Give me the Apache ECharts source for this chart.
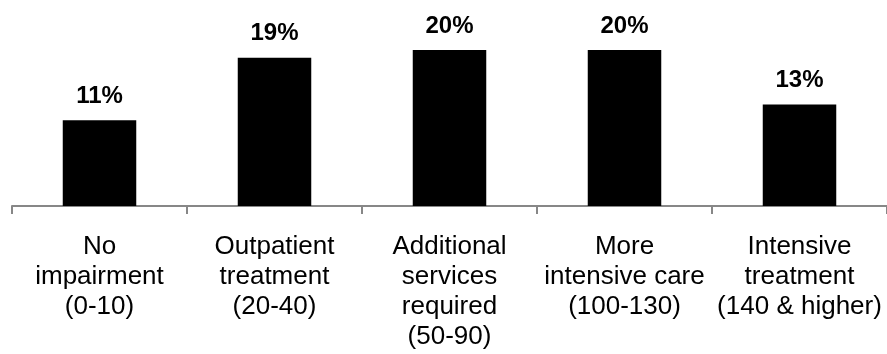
<!DOCTYPE html>
<html>
<head>
<meta charset="utf-8">
<script src="https://cdn.jsdelivr.net/npm/echarts@6/dist/echarts.min.js"></script>
<style>
  html, body { margin: 0; padding: 0; background: #ffffff; }
  #chart { width: 887px; height: 354px; }
</style>
</head>
<body>
<div id="chart"></div>
<script>
// Impairment score bands and the share of cases in each
const categories = [
  'No\nimpairment\n(0-10)',
  'Outpatient\ntreatment\n(20-40)',
  'Additional\nservices\nrequired\n(50-90)',
  'More\nintensive care\n(100-130)',
  'Intensive\ntreatment\n(140 & higher)'
];
const shares = [11, 19, 20, 20, 13];

const chart = echarts.init(document.getElementById('chart'), null, { renderer: 'canvas' });

chart.setOption({
  animation: false,
  backgroundColor: '#ffffff',
  grid: { left: 12, width: 877.5, top: 50, bottom: 148, containLabel: false },
  xAxis: {
    type: 'category',
    data: categories,
    boundaryGap: true,
    axisLine: { show: true, lineStyle: { color: '#878787', width: 2 } },
    axisTick: { show: true, alignWithLabel: false, length: 8, lineStyle: { color: '#878787', width: 2 } },
    axisLabel: {
      interval: 0,
      margin: 26,
      color: '#000000',
      fontFamily: 'Liberation Sans, Arial, sans-serif',
      fontSize: 26,
      lineHeight: 30,
      align: 'center'
    }
  },
  yAxis: {
    type: 'value',
    min: 0,
    max: 20,
    show: false,
    splitLine: { show: false }
  },
  series: [{
    type: 'bar',
    data: shares,
    barWidth: '42%',
    itemStyle: { color: '#000000' },
    label: {
      show: true,
      position: 'top',
      distance: 12,
      formatter: '{c}%',
      color: '#000000',
      fontFamily: 'Liberation Sans, Arial, sans-serif',
      fontWeight: 'bold',
      fontSize: 24
    }
  }]
});
</script>
</body>
</html>
